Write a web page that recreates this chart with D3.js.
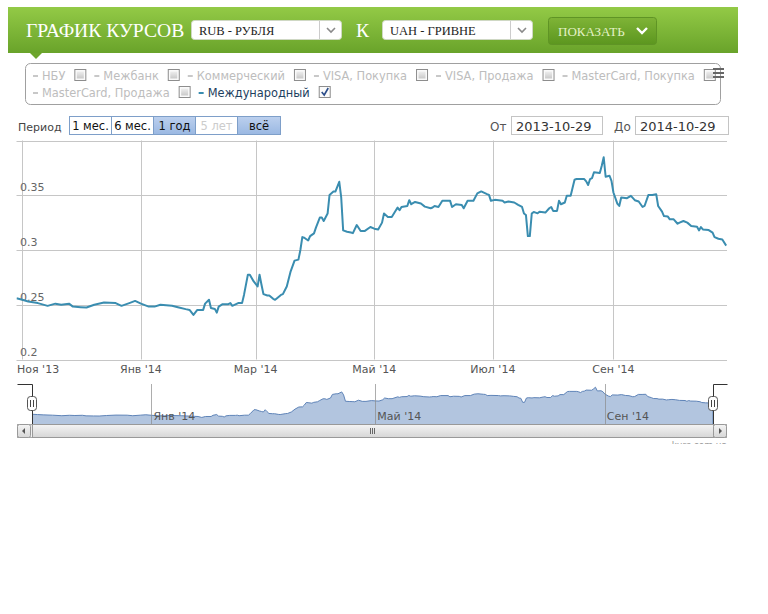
<!DOCTYPE html>
<html><head><meta charset="utf-8">
<script src="https://cdn.jsdelivr.net/npm/d3@7"></script>
<style>
html,body{margin:0;padding:0;background:#fff}
svg{display:block}
</style>
</head><body>
<svg id="chart" width="768" height="614"></svg>
<script>
// ---------------- DATA ----------------
const dates = [
"2013-10-29","2013-11-01","2013-11-04","2013-11-09","2013-11-14","2013-11-18","2013-11-21","2013-11-25","2013-11-27",
"2013-12-01","2013-12-04","2013-12-08","2013-12-13","2013-12-19","2013-12-22","2013-12-26","2013-12-29",
"2014-01-01","2014-01-05","2014-01-08","2014-01-11","2014-01-17","2014-01-20","2014-01-24","2014-01-26","2014-01-28","2014-01-30",
"2014-02-02","2014-02-03","2014-02-05","2014-02-06","2014-02-08","2014-02-09","2014-02-10","2014-02-12","2014-02-15","2014-02-16",
"2014-02-17","2014-02-20","2014-02-22","2014-02-23","2014-02-25","2014-02-26","2014-02-28",
"2014-03-01","2014-03-02","2014-03-03","2014-03-04","2014-03-05","2014-03-07","2014-03-08","2014-03-10","2014-03-11","2014-03-12",
"2014-03-14","2014-03-15","2014-03-17","2014-03-19","2014-03-21","2014-03-23","2014-03-24","2014-03-25","2014-03-26","2014-03-28",
"2014-03-29","2014-03-31",
"2014-04-01","2014-04-03","2014-04-04","2014-04-05","2014-04-07","2014-04-08","2014-04-10","2014-04-11","2014-04-13","2014-04-14",
"2014-04-15","2014-04-17","2014-04-19","2014-04-20","2014-04-22","2014-04-24","2014-04-26","2014-04-29",
"2014-05-01","2014-05-03","2014-05-05","2014-05-06","2014-05-08","2014-05-10","2014-05-13","2014-05-14","2014-05-15","2014-05-18",
"2014-05-19","2014-05-20","2014-05-22","2014-05-25","2014-05-27","2014-05-30","2014-05-31",
"2014-06-01","2014-06-03","2014-06-05","2014-06-09","2014-06-10","2014-06-12","2014-06-15","2014-06-16","2014-06-18","2014-06-21",
"2014-06-23","2014-06-25","2014-06-28","2014-06-29","2014-06-30",
"2014-07-02","2014-07-06","2014-07-07","2014-07-09","2014-07-12","2014-07-14","2014-07-16","2014-07-17","2014-07-18","2014-07-19",
"2014-07-20","2014-07-21","2014-07-22","2014-07-24","2014-07-25","2014-07-28","2014-07-30","2014-07-31",
"2014-08-01","2014-08-03","2014-08-04","2014-08-05","2014-08-07","2014-08-08","2014-08-10","2014-08-12","2014-08-13","2014-08-17",
"2014-08-18","2014-08-19","2014-08-20","2014-08-21","2014-08-22","2014-08-25","2014-08-26","2014-08-27","2014-08-28","2014-08-30",
"2014-08-31",
"2014-09-01","2014-09-03","2014-09-04","2014-09-05","2014-09-08","2014-09-10","2014-09-12","2014-09-14","2014-09-16","2014-09-17",
"2014-09-19","2014-09-21","2014-09-23","2014-09-24","2014-09-26","2014-09-27","2014-09-29","2014-09-30",
"2014-10-02","2014-10-04","2014-10-05","2014-10-07","2014-10-09","2014-10-11","2014-10-14","2014-10-15","2014-10-16","2014-10-17",
"2014-10-20","2014-10-22","2014-10-23","2014-10-25","2014-10-27","2014-10-29"
];
const values = [
0.256,0.2545,0.253,0.2515,0.249,0.251,0.250,0.251,0.2483,
0.2478,0.2475,0.250,0.252,0.2515,0.249,0.2515,0.2535,
0.251,0.2483,0.2483,0.250,0.249,0.2478,0.246,0.2453,0.2407,0.2453,
0.2453,0.251,0.2545,0.247,0.2462,0.2428,0.2483,0.2505,0.2505,0.2515,
0.249,0.2515,0.2515,0.259,0.2775,0.2775,0.2713,
0.269,0.2667,0.2775,0.2683,0.2597,0.2585,0.2585,0.2554,0.2545,0.256,
0.259,0.2597,0.2667,0.2805,0.2903,0.2912,0.300,0.3118,0.3112,0.3087,
0.3127,0.3152,
0.3204,0.3296,0.3296,0.3265,0.3333,0.3503,0.3534,0.3534,0.3623,0.348,
0.3179,0.3167,0.316,0.3154,0.3228,0.3173,0.3173,0.321,
0.3195,0.3188,0.325,0.3333,0.3301,0.3301,0.3388,0.3363,0.3393,0.3402,
0.3455,0.3418,0.3439,0.3424,0.3396,0.3381,0.3388,
0.3402,0.3393,0.3449,0.3449,0.3393,0.3418,0.3412,0.3381,0.3449,0.3449,
0.3517,0.3535,0.351,0.3503,0.3449,
0.3458,0.3449,0.3434,0.3443,0.3434,0.3412,0.3393,0.3333,0.332,0.3127,
0.3127,0.3333,0.3348,0.3335,0.335,0.3342,0.3381,0.3393,
0.3357,0.3357,0.3449,0.3418,0.3434,0.3495,0.3495,0.3642,0.3648,0.3648,
0.3627,0.3593,0.3648,0.3657,0.371,0.3703,0.377,0.3847,0.3669,0.3678,
0.3632,
0.3525,0.3424,0.3402,0.348,0.3473,0.3495,0.3455,0.3443,0.3393,0.3402,
0.3503,0.3503,0.351,0.3402,0.335,0.331,0.3305,0.328,
0.328,0.324,0.325,0.3265,0.325,0.3219,0.3213,0.3179,0.321,0.3188,
0.3182,0.3158,0.3118,0.3103,0.3096,0.304
];
const monthNames = ["Янв","Фев","Мар","Апр","Май","Июн","Июл","Авг","Сен","Окт","Ноя","Дек"];
const yTicks = [0.2, 0.25, 0.3, 0.35, 0.4];
const yLabels = ["0.2", "0.25", "0.3", "0.35"];
const legendNames = ["НБУ","Межбанк","Коммерческий","VISA, Покупка","VISA, Продажа","MasterCard, Покупка","MasterCard, Продажа","Международный"];
const legendActive = [false,false,false,false,false,false,false,true];
const periodLabels = ["1 мес.","6 мес.","1 год","5 лет","всё"];
const periodState = ["normal","normal","selected","disabled","selected"];
const rangeFrom = "2013-10-29";
const rangeTo = "2014-10-29";
const titleText = "ГРАФИК КУРСОВ";
const currencyFrom = "RUB - РУБЛЯ";
const currencyTo = "UAH - ГРИВНЕ";

// ---------------- SETUP ----------------
const parse = d3.timeParse("%Y-%m-%d");
const data = dates.map((d, i) => ({date: parse(d), v: values[i]}));
const svg = d3.select("#chart");
const FONT = "'DejaVu Sans', Verdana, sans-serif";
const SERIF = "'Liberation Serif', 'Times New Roman', serif";
const defs = svg.append("defs");

function grad(id, stops) {
  const g = defs.append("linearGradient").attr("id", id).attr("x1", 0).attr("y1", 0).attr("x2", 0).attr("y2", 1);
  stops.forEach(([o, c]) => g.append("stop").attr("offset", o).attr("stop-color", c));
}
grad("gHeader", [[0, "#93ca46"], [1, "#69a32a"]]);
grad("gBtn", [[0, "#7fb437"], [1, "#5c961f"]]);
grad("gSel", [[0, "#bcd0ee"], [1, "#9ab8e2"]]);
grad("gScroll", [[0, "#f4f4f4"], [1, "#d6d6d6"]]);
grad("gTrack", [[0, "#e6e6e6"], [1, "#f4f4f4"]]);
grad("gChk", [[0, "#eeeeee"], [1, "#c9c9c9"]]);

// ---------------- HEADER ----------------
svg.append("rect").attr("x", 8).attr("y", 7).attr("width", 730).attr("height", 46).attr("fill", "url(#gHeader)");
svg.append("path").attr("d", "M30,53 L42,53 L36,59 Z").attr("fill", "#6da52c");
svg.append("text").attr("x", 26).attr("y", 37).attr("font-family", SERIF).attr("font-size", 19.6)
  .attr("fill", "#fff").text(titleText);

function selectBox(x0, w, label) {
  svg.append("rect").attr("x", x0 + 0.5).attr("y", 20.5).attr("width", w).attr("height", 19).attr("rx", 3)
    .attr("fill", "#fff").attr("stroke", "#cfd8c4");
  svg.append("line").attr("x1", x0 + w - 21.5).attr("x2", x0 + w - 21.5).attr("y1", 21).attr("y2", 39).attr("stroke", "#ccc");
  const cx = x0 + w - 10;
  svg.append("path").attr("d", `M${cx - 4},28 L${cx},32 L${cx + 4},28`).attr("fill", "none")
    .attr("stroke", "#8a8a8a").attr("stroke-width", 1.6);
  svg.append("text").attr("x", x0 + 8).attr("y", 35).attr("font-family", SERIF).attr("font-size", 12.5)
    .attr("fill", "#222").text(label);
}
selectBox(191, 150, currencyFrom);
svg.append("text").attr("x", 356).attr("y", 37).attr("font-family", SERIF).attr("font-size", 19.6).attr("fill", "#fff").text("К");
selectBox(382, 150, currencyTo);

svg.append("rect").attr("x", 548.5).attr("y", 17.5).attr("width", 108).attr("height", 27).attr("rx", 3)
  .attr("fill", "url(#gBtn)").attr("stroke", "#5f9425");
svg.append("text").attr("x", 558).attr("y", 36).attr("font-family", SERIF).attr("font-size", 13)
  .attr("fill", "#e4f2c6").text("ПОКАЗАТЬ");
svg.append("path").attr("d", "M637,28 L642,33 L647,28").attr("fill", "none").attr("stroke", "#fff").attr("stroke-width", 2.4);

// ---------------- LEGEND ----------------
svg.append("rect").attr("x", 25.5).attr("y", 63.5).attr("width", 695).attr("height", 41).attr("rx", 5)
  .attr("fill", "#fff").attr("stroke", "#a0a0a0");
{
  let lx = 33, row = 0;
  const rowY = [80, 97];
  legendNames.forEach((name, i) => {
    const active = legendActive[i];
    const g = svg.append("g");
    const t = g.append("text").attr("font-family", FONT).attr("font-size", 11.4)
      .attr("fill", active ? "#1d3f60" : "#bdbdbd").text(name);
    const tw = t.node().getComputedTextLength();
    const itemW = 9 + tw + 9 + 12;
    if (lx + itemW > 728 && i > 0) { row++; lx = 33; }
    const by = rowY[row];
    g.append("line").attr("x1", lx).attr("x2", lx + 5).attr("y1", by - 4).attr("y2", by - 4)
      .attr("stroke", active ? "#3a8db0" : "#c8c8c8").attr("stroke-width", 2);
    t.attr("x", lx + 9).attr("y", by);
    const cbx = lx + 9 + tw + 9;
    g.append("rect").attr("x", cbx + 0.5).attr("y", by - 10.5).attr("width", 11).attr("height", 11)
      .attr("fill", "#fafafa").attr("stroke", "#8d8d8d");
    if (active) {
      g.append("path").attr("d", `M${cbx + 3},${by - 5} L${cbx + 5.5},${by - 2} L${cbx + 9.5},${by - 9}`)
        .attr("fill", "none").attr("stroke", "#2b4d8a").attr("stroke-width", 1.6);
    } else {
      g.append("rect").attr("x", cbx + 2.5).attr("y", by - 8.5).attr("width", 7).attr("height", 7).attr("fill", "url(#gChk)");
    }
    lx = cbx + 12 + 8;
  });
}
// menu icon
[69, 73, 77].forEach(yy => svg.append("line").attr("x1", 713).attr("x2", 724).attr("y1", yy).attr("y2", yy)
  .attr("stroke", "#666").attr("stroke-width", 2));

// ---------------- PERIOD / RANGE ----------------
svg.append("text").attr("x", 18).attr("y", 131).attr("font-family", FONT).attr("font-size", 11).attr("fill", "#444").text("Период");
{
  const bx = [69.5, 111.5, 153.5, 195.5, 237.5, 280.5];
  periodLabels.forEach((lab, i) => {
    const st = periodState[i];
    svg.append("rect").attr("x", bx[i]).attr("y", 116.5).attr("width", bx[i + 1] - bx[i]).attr("height", 18)
      .attr("fill", st === "selected" ? "url(#gSel)" : "#fff").attr("stroke", "#7e9fc9");
    svg.append("text").attr("x", (bx[i] + bx[i + 1]) / 2).attr("y", 130).attr("text-anchor", "middle")
      .attr("font-family", FONT).attr("font-size", 11.5)
      .attr("fill", st === "disabled" ? "#cccccc" : "#111").text(lab);
  });
}
svg.append("text").attr("x", 490).attr("y", 131).attr("font-family", FONT).attr("font-size", 12).attr("fill", "#555").text("От");
svg.append("rect").attr("x", 511.5).attr("y", 116.5).attr("width", 91).attr("height", 18).attr("fill", "#fff").attr("stroke", "#c4c4c4");
svg.append("text").attr("x", 516).attr("y", 131).attr("font-family", FONT).attr("font-size", 13).attr("fill", "#333").text(rangeFrom);
svg.append("text").attr("x", 614).attr("y", 131).attr("font-family", FONT).attr("font-size", 12).attr("fill", "#555").text("До");
svg.append("rect").attr("x", 635.5).attr("y", 116.5).attr("width", 93).attr("height", 18).attr("fill", "#fff").attr("stroke", "#c4c4c4");
svg.append("text").attr("x", 640).attr("y", 131).attr("font-family", FONT).attr("font-size", 13).attr("fill", "#333").text(rangeTo);

// ---------------- MAIN CHART ----------------
const plotL = 16.5, plotR = 727, plotT = 140.5, plotB = 359.5;
const x = d3.scaleTime().domain([parse(rangeFrom), parse(rangeTo)]).range([plotL, 726.2]);
const y = d3.scaleLinear().domain([0.2, 0.4]).range([plotB, plotT]);
const fmt = d => monthNames[d.getMonth()] + " '" + String(d.getFullYear()).slice(2);

defs.append("clipPath").attr("id", "plotClip").append("rect")
  .attr("x", plotL).attr("y", plotT - 2).attr("width", plotR - plotL).attr("height", plotB - plotT + 4);

const grid = svg.append("g");
grid.selectAll(".hg").data(yTicks).join("line")
  .attr("x1", plotL).attr("x2", plotR).attr("y1", d => Math.round(y(d)) + 0.5).attr("y2", d => Math.round(y(d)) + 0.5)
  .attr("stroke", "#c6c6c6");
const xTicks = x.ticks(d3.timeMonth.every(2));
grid.selectAll(".vg").data(xTicks).join("line")
  .attr("x1", d => Math.round(x(d)) + 0.5).attr("x2", d => Math.round(x(d)) + 0.5)
  .attr("y1", plotT).attr("y2", plotB).attr("stroke", "#c6c6c6");

svg.append("g").selectAll("text").data(yLabels).join("text")
  .attr("x", 20).attr("y", d => y(+d) - 4).attr("font-family", FONT).attr("font-size", 11)
  .attr("fill", "#666").text(d => d);

svg.append("g").selectAll("text").data(xTicks).join("text")
  .attr("y", 373).attr("font-family", FONT).attr("font-size", 11).attr("fill", "#555")
  .text(fmt)
  .each(function (d) {
    const w = this.getComputedTextLength();
    let lx = x(d) - w / 2;
    if (lx < 17) lx = 17;
    d3.select(this).attr("x", lx);
  });

svg.append("path").datum(data).attr("clip-path", "url(#plotClip)")
  .attr("fill", "none").attr("stroke", "#3a8db0").attr("stroke-width", 2).attr("stroke-linejoin", "round")
  .attr("d", d3.line().x(d => x(d.date)).y(d => y(d.v)));

// ---------------- NAVIGATOR ----------------
const navL = 32, navR = 713, navT = 384, navB = 424;
const xn = d3.scaleTime().domain(x.domain()).range([navL, navR]);
const yn = d3.scaleLinear().domain([0.2, 0.4]).range([426, navT]);
defs.append("clipPath").attr("id", "navClip").append("rect")
  .attr("x", navL).attr("y", navT).attr("width", navR - navL).attr("height", navB - navT);

svg.append("path").datum(data).attr("clip-path", "url(#navClip)")
  .attr("fill", "#b2c5df").attr("stroke", "#5f84b8").attr("stroke-width", 1)
  .attr("d", d3.area().x(d => xn(d.date)).y0(navB + 5).y1(d => yn(d.v)));

const navTicks = xn.ticks(d3.timeMonth.every(4));
svg.append("g").selectAll("line").data(navTicks).join("line")
  .attr("x1", d => Math.round(xn(d)) + 0.5).attr("x2", d => Math.round(xn(d)) + 0.5)
  .attr("y1", navT).attr("y2", navB).attr("stroke", "#8a8a8a").attr("stroke-opacity", 0.7);
svg.append("g").selectAll("text").data(navTicks).join("text")
  .attr("x", d => xn(d) + 2).attr("y", 420).attr("font-family", FONT).attr("font-size", 11)
  .attr("fill", "#555").text(fmt);

// outline
svg.append("path").attr("d", `M17.5,${navT + 0.5} H${navL + 0.5} V${navB}`).attr("fill", "none").attr("stroke", "#333");
svg.append("path").attr("d", `M${navR + 0.5},${navB} V${navT + 0.5} H727.5`).attr("fill", "none").attr("stroke", "#333");

// scrollbar
svg.append("rect").attr("x", 17.5).attr("y", 424.5).attr("width", 709).attr("height", 13).attr("fill", "url(#gTrack)").attr("stroke", "#aaa");
svg.append("rect").attr("x", navL + 0.5).attr("y", 424.5).attr("width", navR - navL).attr("height", 13)
  .attr("fill", "url(#gScroll)").attr("stroke", "#999");
[-2, 0, 2].forEach(o => svg.append("line").attr("x1", 372.5 + o).attr("x2", 372.5 + o).attr("y1", 428).attr("y2", 434)
  .attr("stroke", "#666"));
function scrollBtn(bx, dir) {
  svg.append("rect").attr("x", bx + 0.5).attr("y", 424.5).attr("width", 13).attr("height", 13).attr("rx", 2)
    .attr("fill", "url(#gScroll)").attr("stroke", "#999");
  const cx = bx + 7, cy = 431;
  svg.append("path").attr("d", dir < 0 ? `M${cx - 2},${cy} L${cx + 1},${cy - 3} L${cx + 1},${cy + 3} Z` : `M${cx + 2},${cy} L${cx - 1},${cy - 3} L${cx - 1},${cy + 3} Z`)
    .attr("fill", "#555");
}
scrollBtn(17, -1);
scrollBtn(713, 1);

// handles
function handle(hx) {
  svg.append("rect").attr("x", hx - 4.5).attr("y", 396.5).attr("width", 9).attr("height", 14).attr("rx", 3)
    .attr("fill", "#fff").attr("stroke", "#555");
  [-1.5, 1.5].forEach(o => svg.append("line").attr("x1", hx + o).attr("x2", hx + o).attr("y1", 400).attr("y2", 407).attr("stroke", "#444"));
}
handle(navL);
handle(navR);

// credit (partially hidden like in the original)
defs.append("clipPath").attr("id", "creditClip").append("rect").attr("x", 600).attr("y", 438).attr("width", 140).attr("height", 6);
svg.append("text").attr("clip-path", "url(#creditClip)").attr("x", 727).attr("y", 448).attr("text-anchor", "end")
  .attr("font-family", FONT).attr("font-size", 9).attr("fill", "#999").text("kurs.com.ua");
</script>
</body></html>
